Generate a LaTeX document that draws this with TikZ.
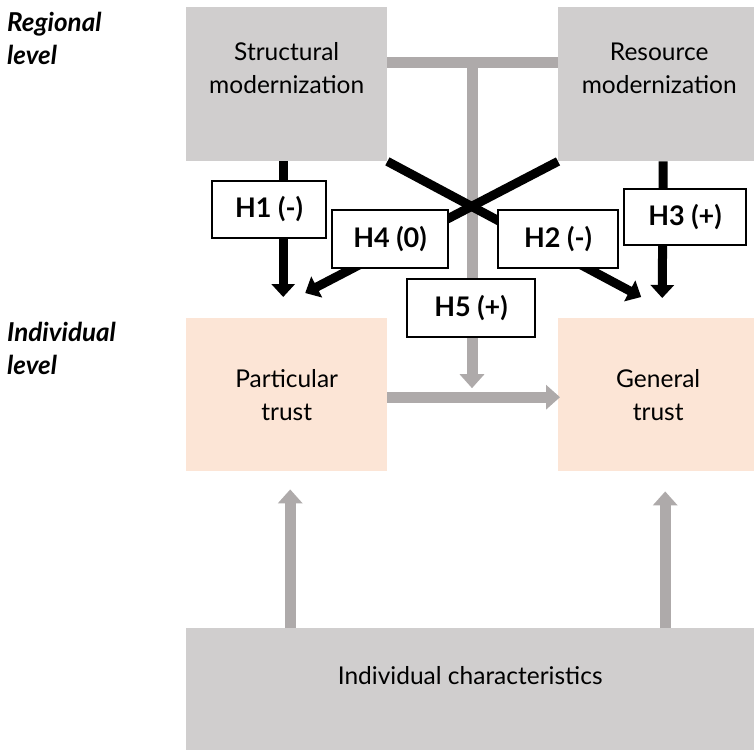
\documentclass[tikz,border=0pt]{standalone}
\usepackage{fontspec}
\setmainfont{Lato}
\usetikzlibrary{arrows.meta,positioning}
\definecolor{boxgray}{RGB}{208,206,206}
\definecolor{linkgray}{RGB}{174,170,170}
\definecolor{peach}{RGB}{252,229,214}

\begin{document}
\begin{tikzpicture}[x=1pt,y=-1pt,
levellabel/.style={anchor=north west, inner sep=0pt, align=left, font=\fontsize{26}{33}\selectfont\bfseries\itshape},
boxbase/.style={anchor=north west, inner sep=0pt, align=center, font=\fontsize{24.5}{33}\selectfont},
regional/.style={boxbase, fill=boxgray, minimum height=154pt},
individual/.style={boxbase, fill=peach, minimum height=153pt},
hyp/.style={draw, line width=1.2pt, fill=white, inner sep=0pt, font=\fontsize{27}{30}\selectfont\bfseries},
effect/.style={line width=9pt, -{Triangle[width=23pt,length=13pt]}},
control/.style={linkgray, line width=11pt},
controlarrow/.style={control, -{Triangle[width=24pt,length=14pt]}}]
\useasboundingbox (0,0) rectangle (754,750);

% levels
\node[levellabel] (reglevel) at (7,12) {Regional\\level};
\node[levellabel] (indlevel) at (7,322) {Individual\\level};

% boxes
\node[regional, minimum width=201pt, label={[boxbase, anchor=center, yshift=16pt]center:Structural\\modernization}] (struct) at (186,7) {};
\node[regional, minimum width=202pt, label={[boxbase, anchor=center, yshift=16pt]center:Resource\\modernization}] (res) at (558,7) {};
\node[individual, minimum width=201pt] (partic) at (186,318) {Particular\\trust};
\node[individual, minimum width=200pt] (gen) at (558,318) {General\\trust};
\node[boxbase, fill=boxgray, minimum width=568pt, minimum height=122pt, label={[boxbase, anchor=center, yshift=14pt]center:Individual characteristics}] (indiv) at (186,628) {};

% moderation
\coordinate (join) at (472,62);
\draw[control] (struct.east |- join) -- (res.west |- join);
\draw[controlarrow] (join) -- ([yshift=6.5pt]join |- partic.east);
\draw[controlarrow] ([yshift=-2.5pt]partic.east) -- ([xshift=2pt,yshift=-2.5pt]gen.west);
\draw[controlarrow] ([xshift=3.5pt]partic.south |- indiv.north) -- ([xshift=3.5pt,yshift=-18pt]partic.south);
\draw[controlarrow] ([xshift=7pt]gen.south |- indiv.north) -- ([xshift=7pt,yshift=-20pt]gen.south);

% hypotheses
\draw[effect] ([xshift=-3.5pt]struct.south) -- ([xshift=-3.5pt,yshift=21pt]partic.north);
\draw[effect] ([xshift=4pt]res.south) -- ([xshift=4pt,yshift=20pt]gen.north);
\draw[effect] (res.south west) -- ([xshift=18.5pt,yshift=25pt]partic.north);
\draw[effect] (struct.south east) -- ([xshift=-17pt,yshift=21pt]gen.north);

\node[hyp, minimum width=114pt, minimum height=57pt] (h1) at (269,209.5) {H1 (-)};
\node[hyp, minimum width=116pt, minimum height=58pt] (h4) at (390,239) {H4 (0)};
\node[hyp, minimum width=120pt, minimum height=58pt] (h2) at (558,239) {H2 (-)};
\node[hyp, minimum width=122pt, minimum height=56pt] (h3) at (685,217) {H3 (+)};
\node[hyp, minimum width=128pt, minimum height=58pt] (h5) at (471,308) {H5 (+)};
\end{tikzpicture}
\end{document}
